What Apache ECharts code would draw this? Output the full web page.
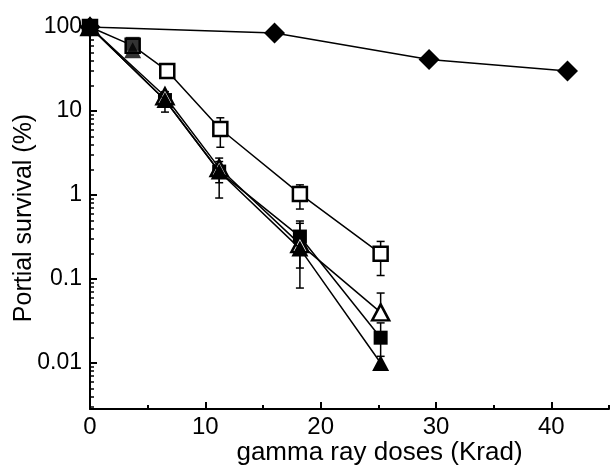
<!DOCTYPE html>
<html>
<head>
<meta charset="utf-8">
<script src="https://cdn.jsdelivr.net/npm/echarts@6/dist/echarts.min.js"></script>
<style>
html,body{margin:0;padding:0;background:#fff}
#main{width:611px;height:471px}
</style>
</head>
<body>
<div id="main"></div>
<script>
// values (survival in %)
var diamondX = [0, 16, 29.4, 41.4];
var diamondY = [100, 85, 41, 30];

var openSqX = [0, 3.7, 6.7, 11.3, 18.2, 25.2];
var openSqY = [100, 60, 30, 6.1, 1.03, 0.2];
var openSqLo = [null, null, null, 3.7, 0.68, 0.11];
var openSqHi = [null, null, null, 8.3, 1.32, 0.28];

var fillSqX = [0, 6.5, 11.2, 18.2, 25.2];
var fillSqY = [100, 13.5, 1.9, 0.32, 0.02];
var fillSqLo = [null, 9.7, 1.4, 0.135, 0.012];
var fillSqHi = [null, 17, 2.75, 0.46, 0.03];

var openTriX = [0, 6.5, 11.2, 18.2, 25.2];
var openTriY = [100, 15, 2.1, 0.26, 0.04];
var openTriLo = [null, null, null, null, null];
var openTriHi = [null, null, null, null, 0.068];

var fillTriX = [0, 6.5, 11.2, 18.2, 25.2];
var fillTriY = [100, 13.5, 1.9, 0.23, 0.01];
var fillTriLo = [null, null, 0.92, 0.078, null];
var fillTriHi = [null, null, 2.5, 0.49, null];

// the overlapping markers at 3.7 Krad
var extraX = [3.7];
var extraSqY = [63];
var extraTriY = [53];

var xTicks = [0, 10, 20, 30, 40];
var xMinorTicks = [5, 15, 25, 35, 45];
var yTicks = [0.01, 0.1, 1, 10, 100];

var FONT = "'Liberation Sans', Arial, sans-serif";

function lg(v){ return Math.log10(v); }
function pts(xs, ys){
    return xs.map(function(x, i){ return [x, lg(ys[i])]; });
}
function errRows(xs, ys, lo, hi){
    var rows = [];
    xs.forEach(function(x, i){
        if (lo[i] == null && hi[i] == null) return;
        rows.push([x, lg(lo[i] == null ? ys[i] : lo[i]), lg(hi[i] == null ? ys[i] : hi[i])]);
    });
    return rows;
}

var errData = [].concat(
    errRows(openSqX, openSqY, openSqLo, openSqHi),
    errRows(fillSqX, fillSqY, fillSqLo, fillSqHi),
    errRows(openTriX, openTriY, openTriLo, openTriHi),
    errRows(fillTriX, fillTriY, fillTriLo, fillTriHi)
);

var yMajor = yTicks.map(lg);
var yMinor = [];
for (var d = -3; d <= 1; d++) {
    for (var k = 2; k <= 9; k++) {
        var v = d + Math.log10(k);
        if (v > -2.548 && v < 2) yMinor.push(v);
    }
}

function renderErr(params, api){
    var x = api.value(0);
    var lo = api.coord([x, api.value(1)]);
    var hi = api.coord([x, api.value(2)]);
    var c = 4;
    var st = {stroke:'#000', lineWidth:1.5};
    return {type:'group', children:[
        {type:'line', shape:{x1:lo[0], y1:lo[1], x2:hi[0], y2:hi[1]}, style:st},
        {type:'line', shape:{x1:lo[0]-c, y1:lo[1], x2:lo[0]+c, y2:lo[1]}, style:st},
        {type:'line', shape:{x1:hi[0]-c, y1:hi[1], x2:hi[0]+c, y2:hi[1]}, style:st}
    ]};
}

var chart = echarts.init(document.getElementById('main'));

var lineStyle = {color:'#000', width:1.5};

var option = {
    backgroundColor:'#fff',
    animation:false,
    grid:{left:90, right:2, top:27, bottom:62, containLabel:false, outerBoundsMode:'none'},
    xAxis:[
        {
            type:'value', min:0, max:45, position:'bottom',
            axisLine:{show:true, onZero:false, lineStyle:{color:'#000', width:2}},
            axisTick:{show:true, inside:true, length:7, customValues:xTicks, lineStyle:{color:'#000', width:2}},
            axisLabel:{customValues:xTicks, fontSize:24, color:'#000', fontFamily:FONT, margin:6},
            splitLine:{show:false},
            name:'gamma ray doses (Krad)', nameLocation:'middle', nameGap:31, nameMoveOverlap:false,
            nameTextStyle:{fontSize:26, color:'#000', fontFamily:FONT, padding:[0,0,0,60]}
        },
        {
            type:'value', min:0, max:45, position:'bottom',
            axisLine:{show:false, onZero:false},
            axisTick:{show:true, inside:true, length:4, customValues:xMinorTicks, lineStyle:{color:'#000', width:2}},
            axisLabel:{show:false},
            splitLine:{show:false}
        }
    ],
    yAxis:[
        {
            type:'value', min:-2.548, max:2, position:'left',
            axisLine:{show:true, onZero:false, lineStyle:{color:'#000', width:2}},
            axisTick:{show:true, inside:true, length:7, customValues:yMajor, lineStyle:{color:'#000', width:2}},
            axisLabel:{
                customValues:yMajor, fontSize:23, color:'#000', fontFamily:FONT, margin:8,
                formatter:function(v){ return String(yTicks[Math.round(v) + 2]); }
            },
            splitLine:{show:false},
            name:'Portial survival (%)', nameLocation:'middle', nameGap:53, nameMoveOverlap:false,
            nameTextStyle:{fontSize:25, color:'#000', fontFamily:FONT}
        },
        {
            type:'value', min:-2.548, max:2, position:'left',
            axisLine:{show:false, onZero:false},
            axisTick:{show:true, inside:true, length:4, customValues:yMinor, lineStyle:{color:'#000', width:1.5}},
            axisLabel:{show:false},
            splitLine:{show:false}
        }
    ],
    series:[
        {
            type:'custom', name:'error', renderItem:renderErr, data:errData,
            encode:{x:0, y:[1,2]}, z:1, silent:true
        },
        {
            type:'line', name:'diamond', data:pts(diamondX, diamondY),
            symbol:'diamond', symbolSize:[21,21], showAllSymbol:true,
            lineStyle:lineStyle, itemStyle:{color:'#000'}, z:5
        },
        {
            type:'line', name:'open square', data:pts(openSqX, openSqY),
            symbol:'rect', symbolSize:14, showAllSymbol:true,
            lineStyle:lineStyle, itemStyle:{color:'#fff', borderColor:'#000', borderWidth:2.5}, z:3
        },
        {
            type:'line', name:'filled square', data:pts(fillSqX, fillSqY),
            symbol:'rect', symbolSize:14, showAllSymbol:true,
            lineStyle:lineStyle, itemStyle:{color:'#000'}, z:4
        },
        {
            type:'line', name:'open triangle', data:pts(openTriX, openTriY),
            symbol:'triangle', symbolSize:[17,16], showAllSymbol:true,
            lineStyle:lineStyle, itemStyle:{color:'#fff', borderColor:'#000', borderWidth:2.5}, z:5
        },
        {
            type:'line', name:'filled triangle', data:pts(fillTriX, fillTriY),
            symbol:'triangle', symbolSize:[17,16], showAllSymbol:true,
            lineStyle:lineStyle, itemStyle:{color:'#000'}, z:6
        },
        {
            type:'scatter', name:'extra triangle', data:pts(extraX, extraTriY),
            symbol:'triangle', symbolSize:[17,16], itemStyle:{color:'#000'}, z:6
        },
        {
            type:'scatter', name:'extra square', data:pts(extraX, extraSqY),
            symbol:'rect', symbolSize:14, itemStyle:{color:'#000'}, z:6
        }
    ]
};
chart.setOption(option);
</script>
</body>
</html>
